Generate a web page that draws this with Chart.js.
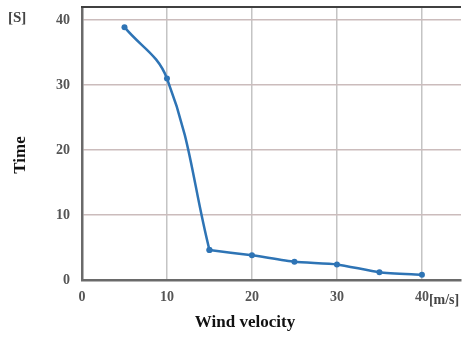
<!DOCTYPE html>
<html>
<head>
<meta charset="utf-8">
<script src="https://cdn.jsdelivr.net/npm/chart.js@4"></script>
<style>
html,body{margin:0;padding:0;background:#fff;}
#wrap{width:462px;height:338px;position:relative;}
</style>
</head>
<body>
<div id="wrap"><canvas id="c" width="462" height="338"></canvas></div>
<script>
const windVelocity = [5, 10, 15, 20, 25, 30, 35, 40];
const timeValues = [38.9, 31.0, 4.6, 3.8, 2.8, 2.4, 1.2, 0.8];
const xTicks = [0, 10, 20, 30, 40];
const yTicks = [0, 10, 20, 30, 40];
const xTitle = 'Wind velocity';
const yTitle = 'Time';
const yUnit = '[S]';
const xUnit = '[m/s]';

const serif = '"Liberation Serif", "DejaVu Serif", serif';
const lineColor = '#2e74b5';

const points = windVelocity.map((x, i) => ({x: x, y: timeValues[i]}));
// the series is drawn in two runs so the curve keeps the sharp corner at 15 m/s
const steepPart = points.slice(0, 3);
const flatPart = points.slice(2);

const decor = {
  id: 'decor',
  afterDraw(chart) {
    const ctx = chart.ctx;
    const a = chart.chartArea;
    ctx.save();
    ctx.strokeStyle = '#404040';
    ctx.lineWidth = 2;
    ctx.beginPath();
    ctx.moveTo(a.left - 1, a.top);
    ctx.lineTo(a.right, a.top);
    ctx.stroke();
    ctx.fillStyle = '#444';
    ctx.font = 'bold 15px ' + serif;
    ctx.textAlign = 'left';
    ctx.textBaseline = 'middle';
    ctx.fillText(yUnit, 8, 18);
    ctx.font = 'bold 14px ' + serif;
    const xs = chart.scales.x;
    ctx.fillText(xUnit, xs.getPixelForValue(40) + 7, 300);
    ctx.fillStyle = '#111';
    ctx.font = 'bold 17px ' + serif;
    ctx.textAlign = 'center';
    ctx.fillText(xTitle, 245, 323);
    ctx.translate(21, 155);
    ctx.rotate(-Math.PI / 2);
    ctx.fillText(yTitle, 0, 0);
    ctx.restore();
  }
};

const common = {
  borderColor: lineColor,
  backgroundColor: lineColor,
  borderWidth: 2.5,
  pointRadius: 3,
  pointBorderWidth: 0,
  fill: false
};

new Chart(document.getElementById('c'), {
  type: 'line',
  data: {
    datasets: [
      Object.assign({data: steepPart, tension: 0.4}, common),
      Object.assign({data: flatPart, tension: 0.2}, common)
    ]
  },
  options: {
    responsive: false,
    animation: false,
    layout: {autoPadding: false, padding: {top: 7, right: 1, left: 0, bottom: 0}},
    plugins: {legend: {display: false}, tooltip: {enabled: false}},
    scales: {
      x: {
        type: 'linear',
        min: 0,
        max: 44.6,
        afterBuildTicks: s => { s.ticks = xTicks.map(v => ({value: v})); },
        afterFit: s => { s.height = 58; s.paddingLeft = 0; s.paddingRight = 0; },
        ticks: {
          padding: 9,
          color: '#555',
          font: {family: serif, size: 14, weight: 'bold'}
        },
        grid: {color: '#c4c4c4', lineWidth: 1.5, drawTicks: false},
        border: {color: '#6a6a6a', width: 2.5}
      },
      y: {
        min: 0,
        max: 42,
        afterBuildTicks: s => { s.ticks = yTicks.map(v => ({value: v})); },
        afterFit: s => { s.width = 82; s.paddingTop = 0; s.paddingBottom = 0; },
        ticks: {
          padding: 12,
          color: '#555',
          font: {family: serif, size: 14, weight: 'bold'}
        },
        grid: {color: '#cbbcbc', lineWidth: 1.5, drawTicks: false},
        border: {color: '#6a6a6a', width: 2.5}
      }
    }
  },
  plugins: [decor]
});
</script>
</body>
</html>
